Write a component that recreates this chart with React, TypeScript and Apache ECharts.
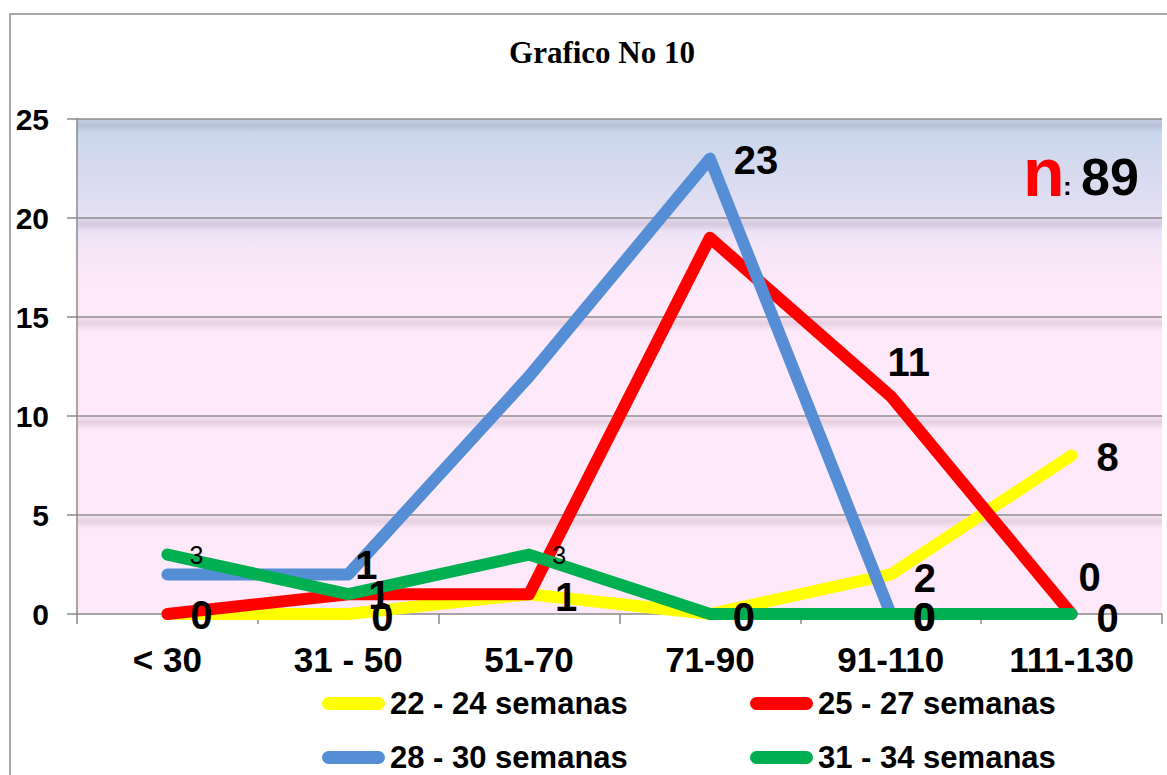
import React, { useEffect, useRef } from "react";
import * as echarts from "echarts";

const categories = ["< 30", "31 - 50", "51-70", "71-90", "91-110", "111-130"];
const seriesNames = ["22 - 24 semanas", "25 - 27 semanas", "28 - 30 semanas", "31 - 34 semanas"];
const s2224 = [0, 0, 1, 0, 2, 8];
const s2527 = [0, 1, 1, 19, 11, 0];
const s2830 = [2, 2, 12, 23, 0, 0];
const s3134 = [3, 1, 3, 0, 0, 0];
const yTicks = [5, 10, 15, 20, 25];
const totalN = "89";
const titleText = "Grafico No 10";

// label offsets (index -> [dx, dy]) from the data point
const lab2224: Record<number, number[]> = { 0: [34, 1], 1: [34, 3], 2: [37, 3], 3: [34, 3], 4: [34, 4], 5: [36, 1] };
const lab2527: Record<number, number[]> = { 1: [31, 1], 4: [18, -34], 5: [18, -37] };
const lab2830: Record<number, number[]> = { 3: [46, 1], 4: [34, 3] };
const lab3134: Record<number, number[]> = { 0: [29, 0], 1: [18, -29], 2: [30, 0], 4: [33, 3], 5: [36, 4] };
const smallLabel3134 = [0, 2];

const colors = ["#ffff00", "#ff0000", "#558ed5", "#00b050"];
const FONT = '"Liberation Sans", Arial, sans-serif';
const capsule = "path://M6.5,0L56.5,0A6.5,6.5,0,0,1,56.5,13L6.5,13A6.5,6.5,0,0,1,6.5,0Z";
const GRID = { left: 77, right: 5, top: 119, bottom: 161 };

function buildLabelData(values: number[], labs: Record<number, number[]>, small: number[] = []) {
  const out: any[] = [];
  values.forEach((v, i) => {
    const off = labs[i];
    if (!off) return;
    const isSmall = small.indexOf(i) >= 0;
    out.push({
      value: [i, v],
      label: {
        show: true,
        position: "inside",
        offset: off,
        formatter: String(v),
        fontFamily: FONT,
        fontSize: isSmall ? 25 : 40,
        fontWeight: isSmall ? "normal" : "bold",
        color: "#000000",
        opacity: 1,
        textBorderWidth: 0,
        textShadowBlur: 0,
        align: "center",
        verticalAlign: "middle",
      },
    });
  });
  return out;
}

function baseGraphics(): any[] {
  return [
    {
      type: "rect",
      shape: { x: 10, y: 14, width: 1400, height: 1000 },
      style: { fill: "none", stroke: "#8a8a8a", lineWidth: 1.5 },
      silent: true,
      z: -10,
    },
    {
      type: "text",
      x: 602,
      y: 52,
      style: {
        text: titleText,
        fontFamily: '"Liberation Serif", "Times New Roman", serif',
        fontSize: 31,
        fontWeight: "bold",
        fill: "#000",
        textAlign: "center",
        textVerticalAlign: "middle",
      },
    },
    {
      type: "text",
      x: 1023,
      y: 172,
      z: 10,
      style: {
        text: "n",
        fontFamily: FONT,
        fontSize: 68,
        fontWeight: "bold",
        fill: "#ff0000",
        textAlign: "left",
        textVerticalAlign: "middle",
      },
    },
    {
      type: "text",
      x: 1063,
      y: 186,
      z: 10,
      style: {
        text: ":",
        fontFamily: FONT,
        fontSize: 26,
        fontWeight: "bold",
        fill: "#000",
        textAlign: "left",
        textVerticalAlign: "middle",
      },
    },
    {
      type: "text",
      x: 1081,
      y: 177,
      z: 10,
      style: {
        text: totalN,
        fontFamily: FONT,
        fontSize: 52,
        fontWeight: "bold",
        fill: "#000",
        textAlign: "left",
        textVerticalAlign: "middle",
      },
    },
  ];
}

export default function App() {
  const ref = useRef<HTMLDivElement>(null);
  useEffect(() => {
    const chart = echarts.init(ref.current!, null, { renderer: "svg" });
    const allValues = [s2224, s2527, s2830, s3134];
    const allLabs = [lab2224, lab2527, lab2830, lab3134];
    const legendPos = [[322, 688], [750, 688], [322, 742], [750, 742]];
    const lineSeries = seriesNames.map((n, i) => ({
      name: n,
      type: "line",
      data: allValues[i],
      symbol: "none",
      showSymbol: false,
      z: 2 + i,
      itemStyle: { color: colors[i] },
      lineStyle: { color: colors[i], width: 12, cap: "round", join: "round" },
      emphasis: { disabled: true },
      silent: true,
    }));
    const labelSeries = seriesNames.map((n, i) => ({
      name: n + " label",
      type: "scatter",
      data: buildLabelData(allValues[i], allLabs[i], i === 3 ? smallLabel3134 : []),
      symbol: "circle",
      symbolSize: 1,
      z: 20,
      itemStyle: { color: "rgba(255,255,255,0)", opacity: 1 },
      emphasis: { disabled: true },
      silent: true,
    }));
    const option: any = {
      animation: false,
      backgroundColor: "#ffffff",
      grid: {
        ...GRID,
        show: true,
        borderWidth: 0,
        backgroundColor: new echarts.graphic.LinearGradient(0, 0, 0, 1, [
          { offset: 0, color: "#c5d5eb" },
          { offset: 0.1, color: "#d6daef" },
          { offset: 0.2, color: "#e6e0f4" },
          { offset: 0.27, color: "#f6e6f8" },
          { offset: 0.34, color: "#fde9f9" },
          { offset: 1, color: "#fde9f9" },
        ]),
      },
      xAxis: {
        type: "category",
        data: categories,
        boundaryGap: true,
        axisLine: { show: true, lineStyle: { color: "#8a8a8a", width: 1.5 } },
        axisTick: { show: true, interval: 0, length: 10, lineStyle: { color: "#8a8a8a", width: 1.5 } },
        axisLabel: { interval: 0, margin: 28, fontFamily: FONT, fontSize: 35, fontWeight: "bold", color: "#000" },
        splitLine: { show: false },
      },
      yAxis: {
        type: "value",
        min: 0,
        max: 25,
        interval: 5,
        axisLine: { show: true, lineStyle: { color: "#8a8a8a", width: 1.5 } },
        axisTick: { show: true, length: 10, lineStyle: { color: "#8a8a8a", width: 1.5 } },
        axisLabel: { margin: 28, fontFamily: FONT, fontSize: 30, fontWeight: "bold", color: "#000" },
        splitLine: {
          show: true,
          showMinLine: false,
          lineStyle: { color: "#8c8c8c", width: 1.5 },
        },
      },
      legend: seriesNames.map((n, i) => ({
        data: [n],
        left: legendPos[i][0],
        top: legendPos[i][1],
        padding: 0,
        itemWidth: 63,
        itemHeight: 13,
        icon: capsule,
        selectedMode: false,
        textStyle: { fontFamily: FONT, fontSize: 31, fontWeight: "bold", color: "#000" },
      })),
      series: [...lineSeries, ...labelSeries],
      graphic: baseGraphics(),
    };
    chart.setOption(option);

    // soft shadow bands under each horizontal grid line, placed via the axis scale
    const width = 1167 - GRID.left - GRID.right;
    const shadows = yTicks.map((v) => {
      const y = chart.convertToPixel({ yAxisIndex: 0 }, v) as number;
      return {
        type: "rect",
        silent: true,
        z: 1,
        shape: { x: GRID.left + 1, y: y + 1, width: width - 1, height: 13 },
        style: {
          fill: new echarts.graphic.LinearGradient(0, 0, 0, 1, [
            { offset: 0, color: "rgba(110,80,110,0.05)" },
            { offset: 0.4, color: "rgba(110,80,110,0.16)" },
            { offset: 1, color: "rgba(110,80,110,0)" },
          ]),
        },
      };
    });
    chart.setOption({ graphic: [...baseGraphics(), ...shadows] });
    return () => chart.dispose();
  }, []);
  return (
    <div
      ref={ref}
      style={{ position: "fixed", left: 0, top: 0, width: 1167, height: 775, background: "#fff" }}
    />
  );
}
